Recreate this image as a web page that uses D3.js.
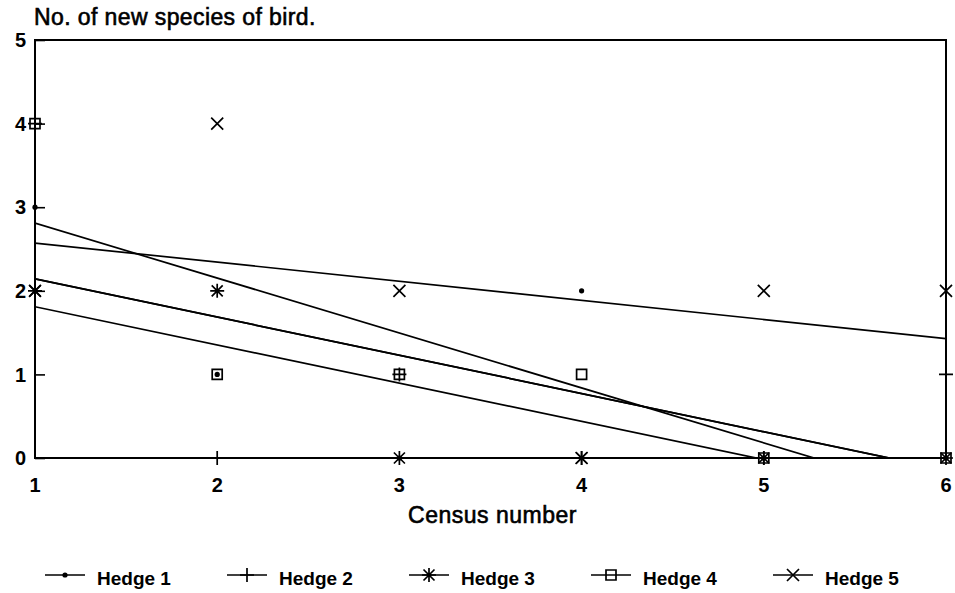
<!DOCTYPE html>
<html>
<head>
<meta charset="utf-8">
<script src="https://cdn.jsdelivr.net/npm/d3@7"></script>
<style>
  body { margin: 0; background: #fff; }
  svg { display: block; font-family: 'Liberation Sans', Arial, sans-serif; }
</style>
</head>
<body>
<div id="chart"></div>
<script>
// census numbers and new species counts per hedge
const census = [1, 2, 3, 4, 5, 6];
const hedge1 = [3, 1, 0, 2, 0, 0];
const hedge2 = [4, 0, 1, 0, 0, 1];
const hedge3 = [2, 2, 0, 0, 0, 0];
const hedge4 = [4, 1, 1, 1, 0, 0];
const hedge5 = [2, 4, 2, 0, 2, 2];
const seriesNames = ['Hedge 1', 'Hedge 2', 'Hedge 3', 'Hedge 4', 'Hedge 5'];
const seriesMarkers = ['dot', 'plus', 'star', 'square', 'cross'];
const yTicks = [0, 1, 2, 3, 4, 5];

const series = [hedge1, hedge2, hedge3, hedge4, hedge5].map((values, i) => ({
  name: seriesNames[i],
  marker: seriesMarkers[i],
  values: values.map((v, j) => ({ x: census[j], y: v })),
}));

const width = 955;
const height = 593;
const margin = { top: 40, right: 9, bottom: 135, left: 35 };

const svg = d3.select('#chart').append('svg')
  .attr('width', width)
  .attr('height', height);

/* -----------------------
  SCALES
------------------------*/
const xScale = d3.scaleLinear()
  .domain(d3.extent(census))
  .range([margin.left, width - margin.right]);

const yScale = d3.scaleLinear()
  .domain([0, 5])
  .range([height - margin.bottom, margin.top]);

// marker shapes, drawn as paths round (0,0)
function markerPath(type) {
  const p = d3.path();
  if (type === 'plus' || type === 'star') {
    p.moveTo(-7, 0); p.lineTo(7, 0);
    p.moveTo(0, -7); p.lineTo(0, 7);
  }
  if (type === 'cross' || type === 'star') {
    const r = type === 'star' ? 5.5 : 6;
    p.moveTo(-r, -r); p.lineTo(r, r);
    p.moveTo(-r, r); p.lineTo(r, -r);
  }
  if (type === 'square') {
    p.rect(-5, -5, 10, 10);
  }
  return p.toString();
}

function drawMarker(sel, type) {
  if (type === 'dot') {
    sel.append('circle').attr('r', 2.6).attr('fill', '#000');
  } else {
    sel.append('path')
      .attr('d', markerPath(type))
      .attr('fill', 'none')
      .attr('stroke', '#000')
      .attr('stroke-width', 1.7);
  }
}

/* -----------------------
  TITLE & AXES
------------------------*/
svg.append('text')
  .attr('x', margin.left - 1)
  .attr('y', 25)
  .attr('font-size', 23)
  .attr('letter-spacing', 0.4)
  .attr('stroke', '#000')
  .attr('stroke-width', 0.6)
  .text('No. of new species of bird.');

svg.append('rect')
  .attr('x', xScale(1))
  .attr('y', yScale(5))
  .attr('width', xScale(6) - xScale(1))
  .attr('height', yScale(0) - yScale(5))
  .attr('fill', 'none')
  .attr('stroke', '#000')
  .attr('stroke-width', 2);

const yAxis = d3.axisRight(yScale).tickValues(yTicks).tickSize(10).tickFormat('');
svg.append('g')
  .attr('transform', `translate(${xScale(1)},0)`)
  .call(yAxis)
  .call((g) => g.select('.domain').remove())
  .call((g) => g.selectAll('line').attr('stroke-width', 1.6));

svg.append('g')
  .selectAll('text')
  .data(yTicks)
  .join('text')
  .attr('x', 26)
  .attr('y', (d) => yScale(d))
  .attr('dy', '0.36em')
  .attr('text-anchor', 'end')
  .attr('font-size', 20)
  .attr('font-weight', 'bold')
  .text((d) => d);

svg.append('g')
  .selectAll('text')
  .data(census)
  .join('text')
  .attr('x', (d) => xScale(d))
  .attr('y', 492)
  .attr('text-anchor', 'middle')
  .attr('font-size', 20)
  .attr('font-weight', 'bold')
  .text((d) => d);

svg.append('text')
  .attr('x', (xScale(1) + xScale(6)) / 2 + 2)
  .attr('y', 523)
  .attr('text-anchor', 'middle')
  .attr('font-size', 23)
  .attr('letter-spacing', 0.5)
  .attr('stroke', '#000')
  .attr('stroke-width', 0.6)
  .text('Census number');

/* -----------------------
  REGRESSION LINES
------------------------*/
svg.append('clipPath')
  .attr('id', 'plot-clip')
  .append('rect')
  .attr('x', xScale(1))
  .attr('y', yScale(5))
  .attr('width', xScale(6) - xScale(1))
  .attr('height', yScale(0) - yScale(5));

function fit(values) {
  const mx = d3.mean(values, (d) => d.x);
  const my = d3.mean(values, (d) => d.y);
  const sxy = d3.sum(values, (d) => (d.x - mx) * (d.y - my));
  const sxx = d3.sum(values, (d) => (d.x - mx) ** 2);
  const slope = sxy / sxx;
  return (x) => my + slope * (x - mx);
}

const line = d3.line().x((d) => xScale(d[0])).y((d) => yScale(d[1]));

svg.append('g')
  .attr('clip-path', 'url(#plot-clip)')
  .selectAll('path')
  .data(series)
  .join('path')
  .attr('d', (s) => {
    const f = fit(s.values);
    const x0 = census[0];
    const x1 = census[census.length - 1];
    return line([[x0, f(x0)], [x1, f(x1)]]);
  })
  .attr('fill', 'none')
  .attr('stroke', '#000')
  .attr('stroke-width', 1.7);

/* -----------------------
  DATA POINTS
------------------------*/
series.forEach((s) => {
  svg.append('g')
    .selectAll('g')
    .data(s.values)
    .join('g')
    .attr('transform', (d) => `translate(${xScale(d.x)},${yScale(d.y)})`)
    .each(function addMarker() { drawMarker(d3.select(this), s.marker); });
});

/* -----------------------
  LEGEND
------------------------*/
const legendX = d3.scalePoint().domain(seriesNames).range([45, 773]);

const legend = svg.append('g')
  .selectAll('g')
  .data(series)
  .join('g')
  .attr('transform', (s) => `translate(${legendX(s.name)},575)`);

legend.append('line')
  .attr('x1', 0)
  .attr('x2', 40)
  .attr('stroke', '#000')
  .attr('stroke-width', 1.3);

legend.append('g')
  .attr('transform', 'translate(20,0)')
  .each(function addMarker(s) { drawMarker(d3.select(this), s.marker); });

legend.append('text')
  .attr('x', 52)
  .attr('y', 10)
  .attr('font-size', 19)
  .attr('font-weight', 'bold')
  .text((s) => s.name);
</script>
</body>
</html>
